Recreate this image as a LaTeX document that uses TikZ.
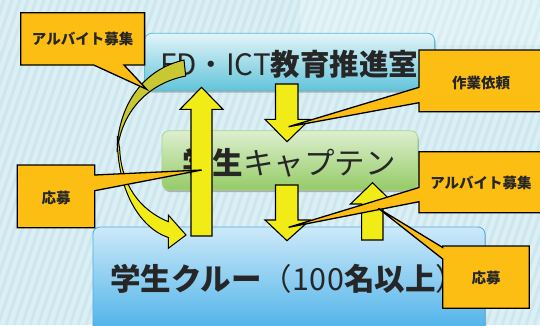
\documentclass[tikz,border=0pt]{standalone}
\usepackage{fontspec}
\newfontfamily\jp{Noto Sans CJK JP}
\usetikzlibrary{shadows}
\definecolor{bgbase}{HTML}{DCEFF5}
\definecolor{stripec}{HTML}{BDE0E9}
\definecolor{topT}{HTML}{E2F4F8}
\definecolor{topB}{HTML}{62C4DA}
\definecolor{topD}{HTML}{58BED6}
\definecolor{midT}{HTML}{DDEFCF}
\definecolor{midB}{HTML}{95CB66}
\definecolor{midD}{HTML}{A9D68C}
\definecolor{botT}{HTML}{CDE9FA}
\definecolor{botB}{HTML}{48B0E8}
\definecolor{botD}{HTML}{4CAEE0}
\definecolor{arrowyellow}{HTML}{F2EC16}
\definecolor{olivey}{HTML}{C8C832}
\definecolor{calloutorange}{HTML}{FCBE12}
\definecolor{textdark}{HTML}{262626}
\begin{document}
\begin{tikzpicture}[x=1pt,y=-1pt,
  boxshape/.style={rounded corners=7pt, line width=0.8pt, inner sep=0pt,
    drop shadow={shadow xshift=1pt, shadow yshift=-2pt, fill=gray!80, opacity=0.7}},
  blockarrow/.style={fill=arrowyellow, draw=black, line width=1.1pt, line join=miter},
  callout/.style={fill=calloutorange, draw=black, line width=1.3pt, line join=miter},
  calltext/.style={font=\jp\bfseries\fontsize{14.5}{16}\selectfont, text=textdark, inner sep=0pt},
  bigtext/.style={font=\jp\fontsize{29.5}{32}\selectfont, text=textdark, inner sep=0pt, anchor=west},
  stripe/.style={draw=stripec, line width=3pt, opacity=0.5}
]
\useasboundingbox (0,0) rectangle (540,325);
\clip (0,0) rectangle (540,325);
% background
\fill[bgbase] (0,0) rectangle (540,325);
\foreach \i in {-130,-122,...,560} \draw[stripe] (\i,325) -- (\i+110,0);
\fill[white, opacity=0.25] (300,0) rectangle (540,45);

% boxes
\node[boxshape, draw=topD, top color=topT, bottom color=topB,
      minimum width=290pt, minimum height=57.4pt] (ed) at (289.6,62) {};
\node[boxshape, draw=midD, top color=midT, bottom color=midB,
      minimum width=255.7pt, minimum height=59.3pt] (cap) at (289.9,160.4) {};
\node[boxshape, draw=botD, top color=botT, bottom color=botB,
      minimum width=392pt, minimum height=108pt] (crew) at (289,281) {};

\node[bigtext] (edtxt) at (160,64) {FD・ICT{\bfseries 教育推進室}};
\node[bigtext, font=\jp\fontsize{30.5}{32}\selectfont] (captxt) at (182,163) {{\bfseries 学生}キャプテン};
\node[bigtext, font=\jp\fontsize{30.5}{32}\selectfont] (crewtxt) at (110,279) {{\bfseries 学生クルー}（1\kern0.5pt0\kern0.5pt0{\bfseries 名以上}）};

% curved arrow: back part
\fill[olivey, draw=black, line width=1pt]
  (184,60) .. controls (140,70) and (117,110) .. (117.2,152)
  .. controls (120.5,115) and (145,84) .. (185.7,76) -- cycle;
% curved arrow: front part
\fill[arrowyellow, draw=black, line width=1pt, line join=miter]
  (117.4,136) .. controls (116.5,190) and (140,228) .. (168.3,237.5)
  -- (168.3,248.3) -- (186,235) -- (168.3,215) -- (168.3,221.7)
  .. controls (140,210) and (121,185) .. (119.6,148) -- cycle;

% block arrows
\draw[blockarrow] (191,236) -- (191,109.3) -- (180,109.3) -- (201.5,87.3)
  -- (223,109.3) -- (212,109.3) -- (212,236) -- cycle;
\draw[blockarrow] (275.5,84) -- (275.5,119.3) -- (265,119.3) -- (287,141.7)
  -- (310,119.3) -- (298,119.3) -- (298,84) -- cycle;
\draw[blockarrow] (275.5,185) -- (275.5,220) -- (265,220) -- (287,240.7)
  -- (310,220) -- (298,220) -- (298,185) -- cycle;
\draw[blockarrow] (361.6,240) -- (361.6,204) -- (350.5,204) -- (372.5,182.7)
  -- (394.3,204) -- (383,204) -- (383,240) -- cycle;

% callouts
\draw[callout] (20.7,12.7) -- (144.6,12.7) -- (144.6,65) -- (124,65)
  -- (146.7,89.3) -- (93.7,65) -- (20.7,65) -- cycle;
\node[calltext] (c1) at (82.6,39.5) {アルバイト募集};

\draw[callout] (419,50) -- (546,50) -- (546,111.7) -- (419,111.7)
  -- (419,102.7) -- (288.6,126.7) -- (419,87.3) -- cycle;
\node[calltext] (c2) at (481,82.7) {作業依頼};

\draw[callout] (17.2,165) -- (94.7,165) -- (94.7,175) -- (201.7,170)
  -- (94.7,190.7) -- (94.7,227.7) -- (17.2,227.7) -- cycle;
\node[calltext] (c3) at (56,198.3) {応募};

\draw[callout] (419,151.7) -- (546,151.7) -- (546,212.7) -- (419,212.7)
  -- (419,201.7) -- (288.6,227.3) -- (419,187.5) -- cycle;
\node[calltext] (c4) at (481,182.7) {アルバイト募集};

\draw[callout] (442.7,246) -- (529.3,246) -- (529.3,308.3) -- (442.7,308.3)
  -- (442.7,259) -- (378.3,208.3) -- (442.7,247.5) -- cycle;
\node[calltext] (c5) at (486,278.3) {応募};
\end{tikzpicture}
\end{document}
